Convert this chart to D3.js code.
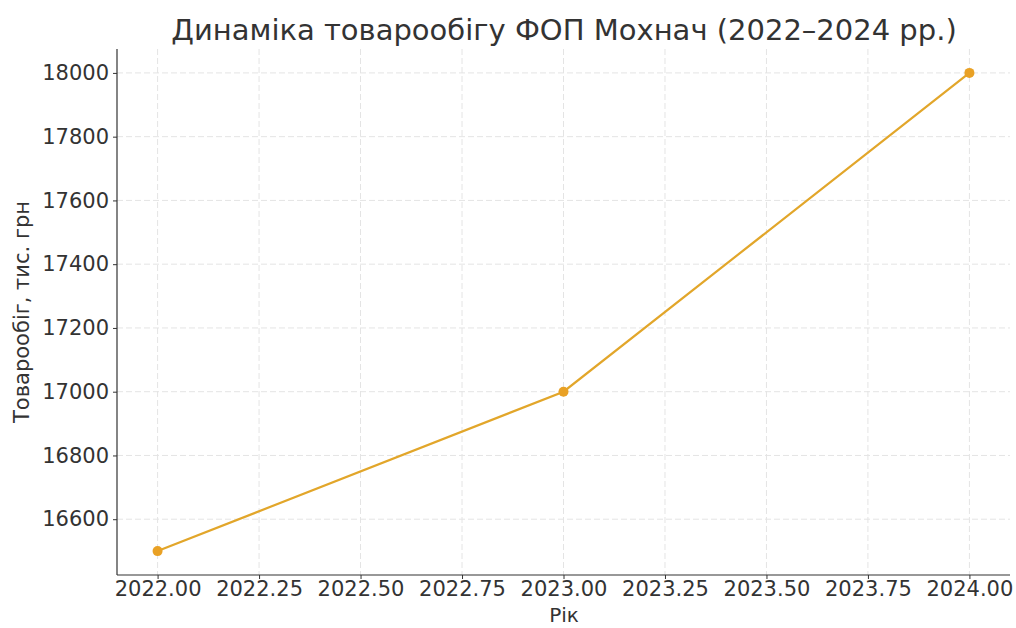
<!DOCTYPE html>
<html><head><meta charset="utf-8">
<script src="https://cdn.jsdelivr.net/npm/d3@7"></script>
<style>body{margin:0;background:#fff}text{font-family:"DejaVu Sans",sans-serif}</style>
</head><body><svg id="c" width="1016" height="628"></svg>
<script>
const years = [2022, 2023, 2024];
const turnover = [16500, 17000, 18000];
const xTicks = [2022, 2022.25, 2022.5, 2022.75, 2023, 2023.25, 2023.5, 2023.75, 2024];
const yTicks = [16600, 16800, 17000, 17200, 17400, 17600, 17800, 18000];
const title = "Динаміка товарообігу ФОП Мохнач (2022–2024 рр.)";
const xLabel = "Рік";
const yLabel = "Товарообіг, тис. грн";

const svg = d3.select("#c");
const L = 117, R = 1010, T = 49, B = 575;
const x = d3.scaleLinear().domain([2021.9, 2024.1]).range([L, R]);
const y = d3.scaleLinear().domain([16425, 18075]).range([B, T]);

// grid
const g = svg.append("g");
g.selectAll(".vg").data(xTicks).join("line")
  .attr("x1", d => x(d)).attr("x2", d => x(d)).attr("y1", T).attr("y2", B)
  .attr("stroke", "#e4e4e4").attr("stroke-width", 1).attr("stroke-dasharray", "6,3");
g.selectAll(".hg").data(yTicks).join("line")
  .attr("x1", L).attr("x2", R).attr("y1", d => y(d)).attr("y2", d => y(d))
  .attr("stroke", "#e4e4e4").attr("stroke-width", 1).attr("stroke-dasharray", "6,3");

// axes
const xa = svg.append("g").attr("transform", `translate(0,${B})`)
  .call(d3.axisBottom(x).tickValues(xTicks).tickFormat(d3.format(".2f")).tickSizeOuter(0).tickSize(4).tickPadding(2));
const ya = svg.append("g").attr("transform", `translate(${L},0)`)
  .call(d3.axisLeft(y).tickValues(yTicks).tickFormat(d3.format("d")).tickSizeOuter(0).tickSize(4).tickPadding(4));
[xa, ya].forEach(a => {
  a.selectAll("path").attr("stroke", "#333").attr("stroke-width", 1.2);
  a.selectAll("line").attr("stroke", "#333");
  a.selectAll("text").attr("fill", "#333").style("font-size", "21px").style("font-family", "DejaVu Sans");
});
xa.select(".domain").attr("d", `M${L},0H${R}`);
ya.select(".domain").attr("d", `M0,${B}V${T}`);

// line
const pts = years.map((d, i) => [d, turnover[i]]);
svg.append("path").datum(pts)
  .attr("fill", "none").attr("stroke", "#E2A62A").attr("stroke-width", 2.2)
  .attr("d", d3.line().x(d => x(d[0])).y(d => y(d[1])));
svg.selectAll(".pt").data(pts).join("circle")
  .attr("cx", d => x(d[0])).attr("cy", d => y(d[1])).attr("r", 5)
  .attr("fill", "#E9A125");

// labels
svg.append("text").attr("x", 564).attr("y", 40).attr("text-anchor", "middle")
  .style("font-size", "29px").attr("fill", "#333").text(title);
svg.append("text").attr("x", 564).attr("y", 622).attr("text-anchor", "middle")
  .style("font-size", "20px").attr("fill", "#333").text(xLabel);
svg.append("text").attr("transform", `translate(29,${(T + B) / 2}) rotate(-90)`).attr("text-anchor", "middle")
  .style("font-size", "21px").attr("fill", "#333").text(yLabel);
</script></body></html>
